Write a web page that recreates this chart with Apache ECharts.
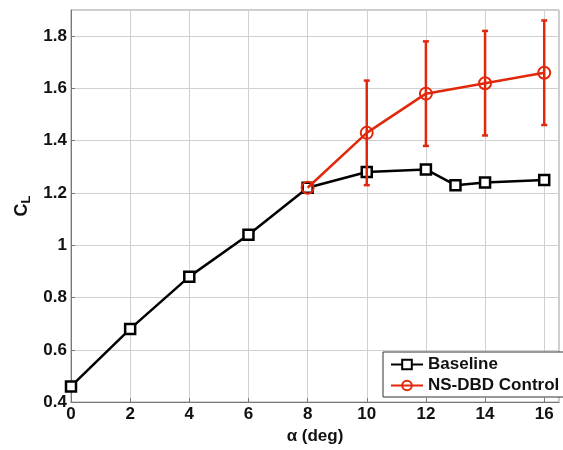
<!DOCTYPE html>
<html>
<head>
<meta charset="utf-8">
<script src="https://cdn.jsdelivr.net/npm/echarts@6/dist/echarts.min.js"></script>
<style>
html,body{margin:0;padding:0;background:#fff;}
#main{width:563px;height:450px;}
</style>
</head>
<body>
<div id="main"></div>
<script>
// data
var baseAlpha=[0,2,4,6,8,10,12,13,14,16];
var baseCL=[0.46,0.68,0.88,1.04,1.22,1.28,1.29,1.23,1.24,1.25];
var ctrlAlpha=[8,10,12,14,16];
var ctrlCL=[1.22,1.43,1.58,1.62,1.66];
var errLow=[null,1.23,1.38,1.42,1.46];
var errHigh=[null,1.63,1.78,1.82,1.86];
var yTicks=[0.4,0.6,0.8,1,1.2,1.4,1.6,1.8];

var red='#e2280c';
var font='"Liberation Sans", Arial, sans-serif';

function pairs(xs,ys){
	var out=[];
	for(var i=0;i<xs.length;i++){out.push([xs[i],ys[i]]);}
	return out;
}
var errData=[];
for(var i=0;i<ctrlAlpha.length;i++){
	if(errLow[i]!=null){errData.push([ctrlAlpha[i],errLow[i],errHigh[i]]);}
}

var myChart=echarts.init(document.getElementById('main'));
var option={
	animation:false,
	backgroundColor:'#fff',
	grid:{left:71,right:4,top:10,bottom:45,show:true,borderColor:'#999',borderWidth:1},
	legend:{
		left:383,top:352,orient:'vertical',
		backgroundColor:'#fff',borderColor:'#333',borderWidth:1,
		padding:[4,12,3,7],itemGap:4,itemWidth:32,itemHeight:12,
		textStyle:{fontFamily:font,fontWeight:'bold',fontSize:17,color:'#111'},
		data:['Baseline','NS-DBD Control']
	},
	xAxis:{
		type:'value',min:0,max:16.5,interval:2,
		name:'α (deg)',nameLocation:'middle',nameGap:24,
		nameTextStyle:{fontFamily:font,fontWeight:'bold',fontSize:17,color:'#111'},
		axisLine:{show:true,lineStyle:{color:'#777'}},
		axisTick:{inside:true,length:4,lineStyle:{color:'#777'}},
		axisLabel:{fontFamily:font,fontWeight:'bold',fontSize:17,color:'#111',margin:4,showMaxLabel:false},
		splitLine:{show:true,lineStyle:{color:'#d0d0d0',width:1}}
	},
	yAxis:{
		type:'value',min:0.4,max:1.9,interval:0.2,
		name:'{c|C}{s|L}',nameLocation:'middle',nameGap:34,nameRotate:90,
		nameTextStyle:{rich:{
			c:{fontFamily:font,fontWeight:'bold',fontSize:18,color:'#111'},
			s:{fontFamily:font,fontWeight:'bold',fontSize:13,color:'#111',verticalAlign:'bottom',padding:[7,0,0,0]}
		}},
		axisLine:{show:true,lineStyle:{color:'#777'}},
		axisTick:{inside:true,length:4,lineStyle:{color:'#777'}},
		axisLabel:{fontFamily:font,fontWeight:'bold',fontSize:17,color:'#111',margin:4,showMaxLabel:false,
			formatter:function(v){return yTicks.indexOf(Math.round(v*10)/10)>=0?String(Math.round(v*10)/10):'';}},
		splitLine:{show:true,lineStyle:{color:'#d0d0d0',width:1}}
	},
	series:[
		{
			name:'Baseline',type:'line',data:pairs(baseAlpha,baseCL),
			symbol:'rect',symbolSize:10,
			lineStyle:{color:'#000',width:2.5},
			itemStyle:{color:'#fff',borderColor:'#000',borderWidth:2.5},
			z:3
		},
		{
			name:'NS-DBD Control-err',type:'custom',data:errData,z:4,
			renderItem:function(params,api){
				var x=api.value(0);
				var lo=api.coord([x,api.value(1)]);
				var hi=api.coord([x,api.value(2)]);
				var c=3;
				var st={stroke:red,lineWidth:2.5};
				return {type:'group',children:[
					{type:'line',shape:{x1:lo[0],y1:lo[1],x2:hi[0],y2:hi[1]},style:st},
					{type:'line',shape:{x1:lo[0]-c,y1:lo[1],x2:lo[0]+c,y2:lo[1]},style:st},
					{type:'line',shape:{x1:hi[0]-c,y1:hi[1],x2:hi[0]+c,y2:hi[1]},style:st}
				]};
			}
		},
		{
			name:'NS-DBD Control',type:'line',data:pairs(ctrlAlpha,ctrlCL),
			symbol:'circle',symbolSize:12,
			lineStyle:{color:red,width:2.5},
			itemStyle:{color:'rgba(255,255,255,0)',borderColor:red,borderWidth:2},
			z:5
		}
	]
};
myChart.setOption(option);
</script>
</body>
</html>
